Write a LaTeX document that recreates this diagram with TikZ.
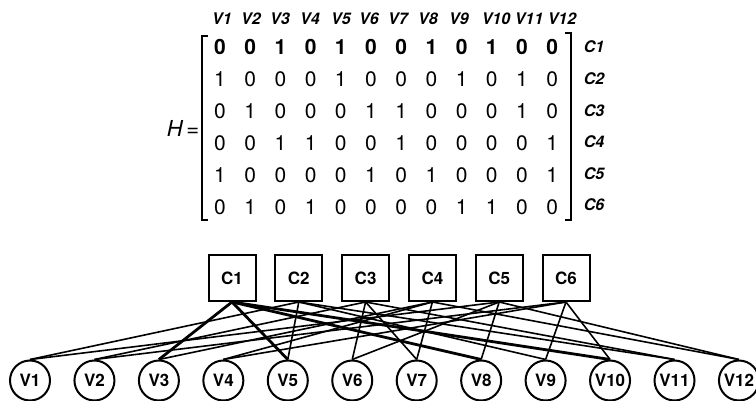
\documentclass[tikz,border=0pt]{standalone}
\usepackage{fontspec}
\setmainfont{TeX Gyre Heros}
\usetikzlibrary{positioning}

\tikzset{
  check/.style={draw, line width=2pt, minimum width=47pt, minimum height=46pt,
    inner sep=0pt, font=\bfseries\fontsize{17}{17}\selectfont},
  var/.style={draw, circle, line width=2pt, minimum size=40pt, inner sep=0pt,
    font=\bfseries\fontsize{17}{17}\selectfont},
  entry/.style={font=\fontsize{21}{21}\selectfont},
  collabel/.style={font=\bfseries\itshape\fontsize{16}{16}\selectfont},
  rowlabel/.style={font=\bfseries\itshape\fontsize{16}{16}\selectfont},
  link/.style={line width=1.6pt},
  boldlink/.style={line width=2.8pt}
}

\begin{document}
\begin{tikzpicture}[x=1pt,y=1pt]
\useasboundingbox (0,0) rectangle (756,400);

% column labels
\foreach \x [count=\j] in {222,251,280,310,341,369,398,428,459,496,529,562}
  \node[collabel] (h\j) at (\x,381) {V\j};

% matrix entries, first row in bold
\foreach \row [count=\i] in {{0,0,1,0,1,0,0,1,0,1,0,0},
                             {1,0,0,0,1,0,0,0,1,0,1,0},
                             {0,1,0,0,0,1,1,0,0,0,1,0},
                             {0,0,1,1,0,0,1,0,0,0,0,1},
                             {1,0,0,0,0,1,0,1,0,0,0,1},
                             {0,1,0,1,0,0,0,0,1,1,0,0}}
  \foreach \e [count=\j] in \row
    \node[entry] (m\i-\j) at (220+30.2*\j-30.2, 353-32*\i+32)
      {\ifnum\i=1 \bfseries\fi\e};

% brackets
\draw[line width=2pt] (208,364) -- (202,364) -- (202,180) -- (208,180);
\draw[line width=2pt] (565,367) -- (571,367) -- (571,180) -- (565,180);
\node[font=\fontsize{22}{22}\selectfont] (H) at (183,272) {\itshape H\upshape\,=};

% row labels
\foreach \i in {1,...,6}
  \node[rowlabel] (r\i) at (594,353-31.6*\i+31.6) {C\i};

% check nodes and variable nodes
\foreach \i in {1,...,6}
  \node[check] (c\i) at (232+66.8*\i-66.8,122) {C\i};
\foreach \j in {1,...,12}
  \node[var] (v\j) at (30+64.45*\j-64.45,19.5) {V\j};

% edges, one for each 1 in H
\foreach \b in {3,5,8,10}
  \draw[boldlink] (c1.south) -- (v\b.north);
\foreach \a/\b in {2/1,2/5,2/9,2/11,3/2,3/6,3/7,3/11,4/3,4/4,4/7,4/12,
                   5/1,5/6,5/8,5/12,6/2,6/4,6/9,6/10}
  \draw[link] (c\a.south) -- (v\b.north);
\end{tikzpicture}
\end{document}
